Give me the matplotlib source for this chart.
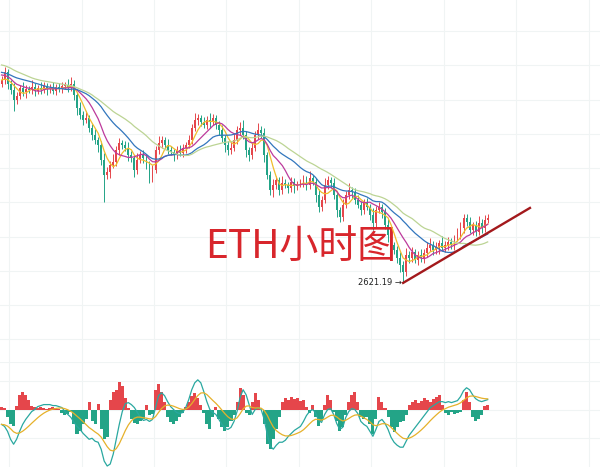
import numpy as np
import pandas as pd
import matplotlib

matplotlib.use("Agg")
import matplotlib.pyplot as plt

plt.rcParams["font.family"] = ["Noto Sans CJK SC", "DejaVu Sans"]

# closes before the visible window (only used to warm up the MAs)
history_close = [
    2791.2, 2792.7, 2794.9, 2793.4, 2795.6, 2797.0, 2794.9, 2796.3, 2794.1, 2795.6, 2792.7,
    2789.7, 2792.7, 2791.2, 2793.4, 2790.5, 2791.9, 2789.0, 2791.2, 2789.7, 2791.2,
    2783.9, 2781.0, 2778.8, 2776.6, 2775.9, 2775.1, 2773.7, 2774.4, 2772.9, 2775.9,
    2778.1, 2775.1, 2776.6, 2777.3, 2775.9, 2772.2, 2767.8, 2770.8, 2766.4,
]

# hourly closes, ETH
close = [
    2769.3, 2775.1, 2766.4, 2762.0, 2754.7, 2757.6, 2763.5, 2760.5, 2762.7, 2762.0,
    2764.2, 2761.3, 2763.5, 2762.0, 2764.9, 2762.7, 2763.5, 2761.3, 2764.2, 2762.7,
    2764.9, 2765.7, 2763.5, 2766.4, 2758.4, 2748.9, 2743.8, 2740.1, 2741.6, 2734.3,
    2729.2, 2725.5, 2721.9, 2710.9, 2700.0, 2702.1, 2707.3, 2709.4, 2718.2, 2723.3,
    2721.9, 2719.7, 2714.5, 2712.4, 2703.6, 2710.9, 2714.5, 2712.4, 2707.3, 2697.8,
    2703.6, 2718.2, 2723.3, 2725.5, 2721.9, 2718.2, 2716.7, 2714.5, 2718.2, 2716.0,
    2719.7, 2721.9, 2725.5, 2734.3, 2740.1, 2741.6, 2738.6, 2736.5, 2740.1, 2738.6,
    2741.6, 2736.5, 2732.8, 2726.9, 2721.9, 2718.2, 2719.7, 2725.5, 2732.8, 2734.3,
    2729.2, 2718.2, 2714.5, 2719.7, 2729.2, 2732.8, 2730.6, 2714.5, 2700.0, 2689.0,
    2692.7, 2696.3, 2689.0, 2694.1, 2692.7, 2690.5, 2694.8, 2691.9, 2693.4, 2694.1,
    2696.3, 2692.7, 2697.8, 2694.8, 2685.4, 2676.6, 2681.7, 2692.7, 2696.3, 2694.1,
    2685.4, 2674.4, 2669.3, 2678.1, 2685.4, 2689.0, 2687.5, 2681.7, 2678.1, 2674.4,
    2679.5, 2676.6, 2670.8, 2664.9, 2674.4, 2676.6, 2672.9, 2663.5, 2656.2, 2648.9,
    2645.2, 2639.4, 2634.3, 2629.1, 2641.6, 2639.4, 2643.7, 2637.9, 2641.6, 2639.4,
    2643.0, 2646.7, 2648.9, 2645.2, 2647.4, 2650.3, 2646.7, 2648.9, 2651.0, 2648.9,
    2654.0, 2656.2, 2661.3, 2668.6, 2665.6, 2659.8, 2663.5, 2658.3, 2664.9, 2661.3,
    2667.1, 2668.6,
]

# shadow lengths above / below the body (USD)
wick_hi = [
    3, 4, 2, 3, 5, 3, 2, 4, 3, 2, 5, 3, 2, 4, 3, 2, 3, 4, 2, 3,
    3, 2, 4, 5, 3, 2, 4, 3, 5, 2, 3, 4, 2, 3, 5, 4, 3, 6, 3, 4,
    2, 3, 4, 3, 2, 5, 3, 4, 2, 3, 4, 3, 5, 3, 2, 4, 3, 2, 3, 4,
    3, 2, 4, 3, 5, 3, 2, 4, 3, 5, 3, 2, 3, 4, 2, 3, 4, 5, 3, 4,
    6, 3, 2, 4, 3, 5, 3, 4, 2, 3, 4, 3, 2, 5, 3, 2, 4, 3, 2, 3,
    4, 3, 5, 2, 3, 4, 3, 5, 3, 2, 4, 3, 2, 4, 3, 5, 2, 3, 4, 3,
    3, 4, 2, 5, 3, 4, 2, 3, 4, 3, 2, 3, 4, 3, 5, 3, 4, 2, 3, 4,
    3, 4, 5, 3, 4, 2, 5, 3, 4, 3, 2, 5, 4, 3, 3, 4, 2, 3, 5, 3, 4, 3,
]
wick_lo = [
    2, 3, 4, 3, 8, 3, 2, 3, 4, 2, 3, 4, 2, 3, 2, 4, 3, 2, 3, 2,
    3, 2, 3, 2, 4, 5, 3, 4, 2, 3, 4, 3, 5, 4, 20, 3, 4, 2, 3, 4,
    3, 2, 4, 3, 5, 3, 2, 4, 3, 4, 3, 2, 3, 4, 2, 3, 2, 4, 3, 2,
    3, 4, 2, 3, 2, 4, 3, 2, 3, 4, 2, 3, 4, 3, 5, 4, 3, 2, 3, 4,
    3, 5, 4, 3, 2, 3, 4, 5, 3, 4, 5, 3, 4, 3, 2, 4, 3, 5, 3, 2,
    3, 4, 3, 2, 5, 4, 3, 2, 3, 4, 3, 5, 4, 3, 2, 3, 4, 3, 2, 4,
    3, 2, 4, 5, 3, 2, 4, 3, 5, 4, 3, 4, 5, 7.91, 3, 4, 3, 2, 4, 3,
    4, 3, 2, 4, 3, 5, 2, 3, 4, 3, 4, 2, 3, 4, 3, 2, 4, 3, 2, 4, 3, 2,
]

# MACD panel
macd_hist = [
    3, 2, -8, -15, -17, 4, 15, 18, 15, 10,
    4, 3, 2, 3, 2, 1, 2, 3, 2, 1,
    -3, -5, -4, -2, -15, -25, -22, -15, -10, 8,
    -12, -15, 6, -20, -30, -28, 10, 18, 20, 28,
    24, 12, 2, -10, -14, -15, -12, -10, 5, -5,
    -4, 20, 26, 18, 8, -8, -13, -15, -12, -8,
    -3, 3, 8, 14, 17, 12, 5, -3, -15, -20,
    -8, 3, -10, -18, -22, -18, -12, -5, 8, 22,
    15, -3, -5, 8, 17, 10, 0, -15, -35, -40,
    -30, -20, -8, 8, 12, 10, 13, 11, 12, 9,
    10, 3, -3, 5, -8, -17, -12, 5, 15, 10,
    -2, -12, -22, -18, -5, 8, 15, 18, 8, -8,
    -10, -8, -15, -25, -10, 13, 8, 2, -8, -18,
    -23, -18, -13, -12, -6, 5, 8, 10, 7, 9,
    12, 10, 8, 11, 13, 15, 5, -3, -5, -2,
    -4, -3, -2, 10, 18, 8, -8, -12, -10, -5,
    4, 5,
]
dif = [
    -15, -17, -22, -30, -35, -30, -22, -15, -10, -6,
    -2, 0, 3, 4, 5, 5, 5, 4, 4, 3,
    2, -2, -5, -8, -13, -17, -20, -24, -27, -30,
    -29, -32, -33, -40, -52, -57, -55, -45, -30, -15,
    -2, 6, 7, 5, 2, -3, -8, -11, -10, -12,
    -10, 2, 14, 17, 14, 8, 3, 0, -3, -4,
    -3, 2, 10, 20, 27, 30, 27, 18, 8, 0,
    -3, -5, -10, -15, -19, -20, -18, -12, -2, 12,
    20, 15, 5, -5, 0, 2, 0, -10, -25, -37,
    -40, -36, -33, -33, -31, -27, -24, -21, -19, -17,
    -12, -6, -2, 0, -3, -11, -13, -5, 0, 1,
    -5, -14, -20, -18, -8, -2, 1, 0, -4, -12,
    -15, -17, -22, -27, -20, -12, -10, -14, -20, -28,
    -33, -36, -38, -38, -32, -26, -22, -18, -14, -10,
    -6, -2, 2, 4, 6, 8, 8, 7, 8, 7,
    8, 9, 13, 19, 22, 20, 15, 11, 9, 8,
    9, 10,
]

# support line drawn from the low
trend_x = [133, 175]
trend_y = [2621.19, 2675.9]

ma_periods = [5, 10, 20, 30]
ma_colors = ["#f0bd2c", "#bd3a9c", "#3276bd", "#bcd494"]

UP = "#e5464b"
DOWN = "#23a487"
GRID = "#f0f4f4"

n_hist = len(history_close)
all_close = pd.Series(history_close + close)
c = np.array(close)
o = all_close.shift(1).iloc[n_hist:].values
high = np.maximum(o, c) + np.array(wick_hi)
low = np.minimum(o, c) - np.array(wick_lo)
x = np.arange(len(c))

macd_hist = np.array(macd_hist)
dea = pd.Series(dif).ewm(span=9, adjust=False).mean().values

fig = plt.figure(figsize=(6, 4.67), dpi=100)
ax = fig.add_axes([0, 105 / 467, 1, 362 / 467])
axm = fig.add_axes([0, 0, 1, 105 / 467])

xlim = (-0.5, 198.2)
day_lines = np.arange(2.5, 200, 24)

for a in (ax, axm):
    a.set_xlim(*xlim)
    a.tick_params(length=0, labelleft=False, labelbottom=False)
    for s in a.spines.values():
        s.set_visible(False)
    for d in day_lines:
        a.axvline(d, color=GRID, lw=0.8, zorder=0)

# price panel
y_top = 2827.7
y_bot = y_top - 0.73 * 362
ax.set_ylim(y_bot, y_top)
for p in np.arange(2580, 2830, 25):
    ax.axhline(p, color=GRID, lw=0.8, zorder=0)

colors = np.where(c >= o, UP, DOWN)
ax.vlines(x, low, high, colors=colors, lw=0.7, zorder=2)
body = np.maximum(np.abs(c - o), 0.4)
ax.bar(x, body, bottom=np.minimum(o, c), width=0.62, color=colors, lw=0, zorder=3)

for p, col in zip(ma_periods, ma_colors):
    ma = all_close.rolling(p).mean().iloc[n_hist:].values
    ax.plot(x, ma, color=col, lw=0.9, zorder=4)

ax.plot(trend_x, trend_y, color="#a3191c", lw=1.7, zorder=5)

i_low = int(np.argmin(low))
ax.annotate(f"{low[i_low]:.2f} →", xy=(i_low, low[i_low]), xytext=(-1, 0),
            textcoords="offset points", ha="right", va="center",
            fontsize=6, color="#222222", family="DejaVu Sans")

ax.text(0.342, 0.318, "ETH小时图", transform=ax.transAxes, fontsize=28,
        color="#d8262c", ha="left", va="center")

# MACD panel
axm.set_ylim(-58, 48)
for v in (-29, 0, 29, 47.5):
    axm.axhline(v, color=GRID, lw=0.8, zorder=0)
axm.bar(x, macd_hist, width=1.0, color=np.where(macd_hist >= 0, UP, DOWN), lw=0, zorder=2)
axm.plot(x, dif, color="#2aa8a0", lw=0.9, zorder=3)
axm.plot(x, dea, color="#e6b12a", lw=0.9, zorder=3)

fig.savefig("out.png", dpi=100, facecolor="white")
